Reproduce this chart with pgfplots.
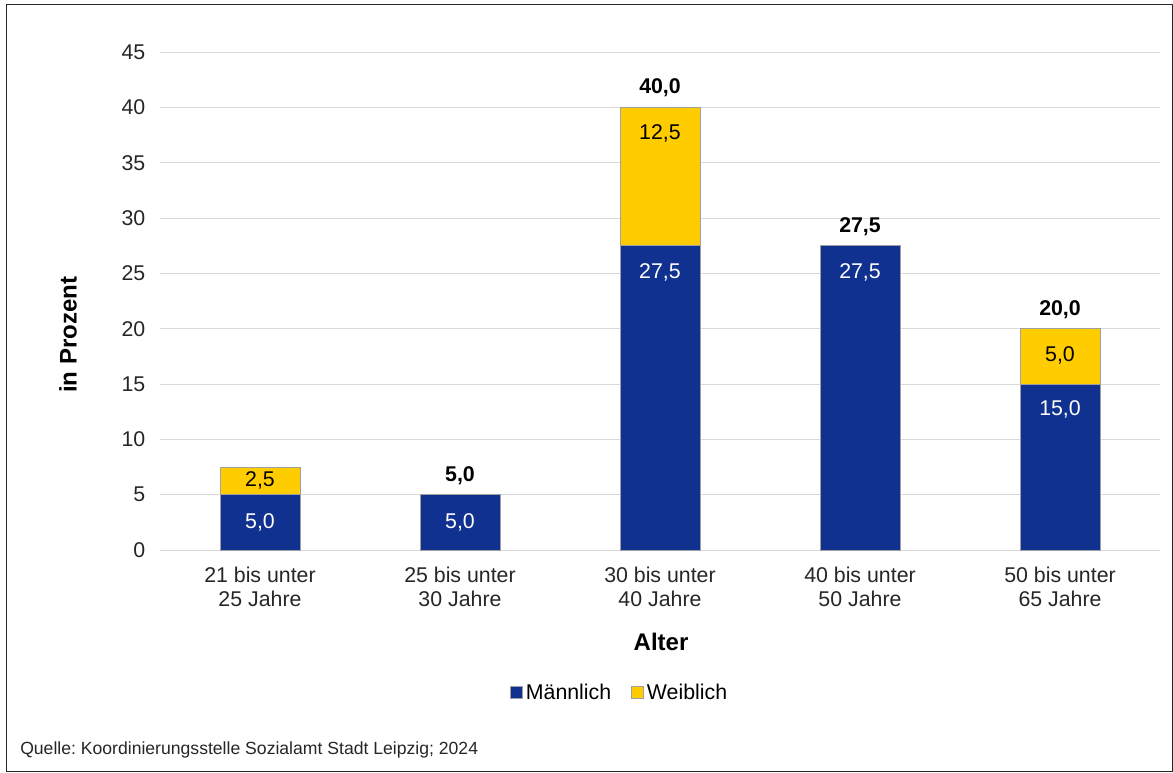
\documentclass[border=0pt]{standalone}
\usepackage{fontspec}
\setmainfont{Liberation Sans}
\usepackage{pgfplots}
\usepackage{pgfplotstable}
\pgfplotsset{compat=1.18}
\definecolor{mBlue}{HTML}{10318F}
\definecolor{wGold}{HTML}{FFCC00}
\definecolor{barEdge}{HTML}{A0A0A0}
\definecolor{gridGray}{HTML}{D9D9D9}
\newcommand{\chartfont}{\fontsize{16}{18}\selectfont}
\newcommand{\titlefont}{\fontsize{18}{21}\selectfont\bfseries}
\newcommand{\seglabel}{\pgfmathfloatifflags{\pgfplotspointmeta}{0}{}{\pgfmathprintnumber[fixed,fixed zerofill,precision=1,use comma]{\pgfplotspointmeta}}}

% segment values, label shift from segment centre in pt
\pgfplotstableread{
x y off
0 5.0 0
1 5.0 0
2 27.5 94
3 27.5 94
4 15.0 43.5
}\maennlich
\pgfplotstableread{
x y off
0 2.5 0
1 0 0
2 12.5 32.25
3 0 0
4 5.0 1
}\weiblich
% totals above bars (first bar has none)
\pgfplotstableread{
x total
1 5.0
2 40.0
3 27.5
4 20.0
}\summe

\begin{document}
\frenchspacing
\begin{tikzpicture}
\path[use as bounding box] (-120pt,-166.5pt) rectangle (759.75pt,412.5pt);
\draw[line width=0.75pt, black!85] (-114.75pt,-165.75pt) rectangle (759pt,408.75pt);
\begin{axis}[
    scale only axis,
    width=750pt, height=373.5pt,
    ybar stacked,
    bar width=60pt,
    xmin=-0.5, xmax=4.5,
    ymin=0, ymax=45,
    xtick={0,...,4},
    xticklabels={{21 bis unter\\25 Jahre},{25 bis unter\\30 Jahre},{30 bis unter\\40 Jahre},{40 bis unter\\50 Jahre},{50 bis unter\\65 Jahre}},
    ytick={0,5,...,45},
    axis line style={draw=none},
    major tick length=0pt,
    ymajorgrids,
    grid style={gridGray, line width=0.75pt},
    tick label style={font=\chartfont, text=black!85},
    xticklabel style={align=center, yshift=-9pt},
    yticklabel style={xshift=-7.5pt},
    /pgf/number format/assume math mode=true,
    xlabel={Alter},
    xlabel style={font=\titlefont, at={(axis description cs:0.501,-0.185)}, anchor=center},
    ylabel={in Prozent},
    ylabel style={font=\titlefont, at={(axis description cs:-0.092,0.432)}, anchor=center},
    legend style={at={(axis description cs:0.46,-0.287)}, anchor=center, draw=none,
        font=\chartfont, legend columns=2,
        /tikz/every even column/.append style={column sep=13pt}},
    legend image code/.code={\draw[#1] (0pt,-4.5pt) rectangle (9pt,4.5pt);},
    nodes near coords align={center},
]
\addplot[fill=mBlue, draw=barEdge, line width=0.75pt,
    point meta=\thisrow{y},
    visualization depends on={\thisrow{off}\as\labeloff},
    nodes near coords=\seglabel,
    every node near coord/.append style={anchor=center, yshift=\labeloff pt, font=\chartfont, text=white}]
    table[x=x, y=y] {\maennlich};
\addplot[fill=wGold, draw=barEdge, line width=0.75pt,
    point meta=\thisrow{y},
    visualization depends on={\thisrow{off}\as\labeloff},
    nodes near coords=\seglabel,
    every node near coord/.append style={anchor=center, yshift=\labeloff pt, font=\chartfont, text=black}]
    table[x=x, y=y] {\weiblich};
\legend{Männlich, Weiblich}
\end{axis}
% totals, same frame as the bar axis
\begin{axis}[
    scale only axis,
    width=750pt, height=373.5pt,
    xmin=-0.5, xmax=4.5,
    ymin=0, ymax=45,
    hide axis,
    clip=false,
    /pgf/number format/assume math mode=true,
]
\addplot[only marks, mark=text, text mark={},
    point meta=\thisrow{total},
    nodes near coords=\seglabel,
    every node near coord/.append style={anchor=center, yshift=14.5pt, font=\chartfont\bfseries, text=black}]
    table[x=x, y=total] {\summe};
\end{axis}
\node[anchor=west, inner sep=0pt, font=\fontsize{13.2}{15}\selectfont, text=black!85] at (-105pt,-150pt) {Quelle: Koordinierungsstelle Sozialamt Stadt Leipzig; 2024};
\end{tikzpicture}
\end{document}
